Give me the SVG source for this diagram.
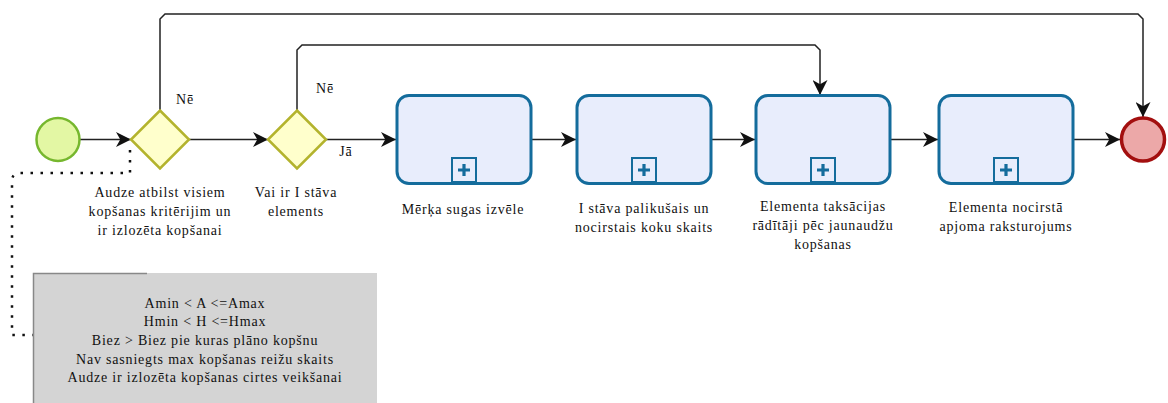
<svg xmlns="http://www.w3.org/2000/svg" width="1168" height="403" viewBox="0 0 1168 403">
  <style>
    .lbl { font-family: "Liberation Serif", "Times New Roman", serif; font-size: 14px; letter-spacing: 0.8px; fill: #111; text-anchor: middle; }
    .flow { fill: none; stroke: #222; stroke-width: 1.5; }
    .assoc { fill: none; stroke: #111; stroke-width: 2.5; stroke-dasharray: 2.5 7.5; }
    .task { fill: #e8edfc; stroke: #146c9c; stroke-width: 3; }
    .plus-box { fill: #e8edfc; stroke: #146c9c; stroke-width: 2; }
    .plus { fill: none; stroke: #146c9c; stroke-width: 3.2; }
    .gw { fill: #ffffcc; stroke: #b3b32d; stroke-width: 2.5; }
  </style>
  <defs>
    <marker id="arrow" viewBox="0 0 14 14" refX="14" refY="7" markerWidth="15" markerHeight="15" markerUnits="userSpaceOnUse" orient="auto">
      <path d="M0,0 L14,7 L0,14 L4,7 Z" fill="#111"/>
    </marker>
  </defs>

  <!-- connectors -->
  <g id="connectors">
    <path class="flow" d="M80,139.5 H131" marker-end="url(#arrow)"/>
    <path class="flow" d="M189,139.5 H268" marker-end="url(#arrow)"/>
    <path class="flow" d="M326,139.5 H396" marker-end="url(#arrow)"/>
    <path class="flow" d="M531,139.5 H576" marker-end="url(#arrow)"/>
    <path class="flow" d="M711,139.5 H755" marker-end="url(#arrow)"/>
    <path class="flow" d="M890,139.5 H938" marker-end="url(#arrow)"/>
    <path class="flow" d="M1073,139.5 H1120" marker-end="url(#arrow)"/>
    <!-- Nē branch from first gateway to the end event -->
    <path class="flow" d="M160,110 V19 L165,14 H1138 L1143,19 V117" marker-end="url(#arrow)"/>
    <!-- Nē branch from second gateway to the third sub-process -->
    <path class="flow" d="M297,110 V50 L302,45 H815 L820,50 V95" marker-end="url(#arrow)"/>
    <!-- association to the annotation -->
    <path class="assoc" d="M130,150 V173 H20 Q12,173 12,181 V335 H33"/>
    <text class="lbl" x="185" y="104">Nē</text>
    <text class="lbl" x="325" y="93">Nē</text>
    <text class="lbl" x="346" y="156">Jā</text>
  </g>

  <!-- start event -->
  <g id="start">
    <circle cx="58" cy="139.5" r="21.5" fill="#e3f7a4" stroke="#76b72e" stroke-width="2.5"/>
  </g>

  <!-- gateway 1 -->
  <g id="gateway1">
    <polygon class="gw" points="160,110.5 189,139.5 160,168.5 131,139.5"/>
    <text class="lbl" x="160" y="197">Audze atbilst visiem</text>
    <text class="lbl" x="160" y="216">kopšanas kritērijim un</text>
    <text class="lbl" x="160" y="235">ir izlozēta kopšanai</text>
  </g>

  <!-- gateway 2 -->
  <g id="gateway2">
    <polygon class="gw" points="297,110.5 326,139.5 297,168.5 268,139.5"/>
    <text class="lbl" x="296" y="197">Vai ir I stāva</text>
    <text class="lbl" x="296" y="216">elements</text>
  </g>

  <!-- sub-process 1 -->
  <g id="task1">
    <rect class="task" x="397" y="95.5" width="134" height="88" rx="12"/>
    <rect class="plus-box" x="452" y="158" width="24" height="24"/>
    <path class="plus" d="M458,170 H470 M464,164 V176"/>
    <text class="lbl" x="463" y="214">Mērķa sugas izvēle</text>
  </g>

  <!-- sub-process 2 -->
  <g id="task2">
    <rect class="task" x="577" y="95.5" width="134" height="88" rx="12"/>
    <rect class="plus-box" x="632" y="158" width="24" height="24"/>
    <path class="plus" d="M638,170 H650 M644,164 V176"/>
    <text class="lbl" x="644" y="213">I stāva palikušais un</text>
    <text class="lbl" x="644" y="232">nocirstais koku skaits</text>
  </g>

  <!-- sub-process 3 -->
  <g id="task3">
    <rect class="task" x="756" y="95.5" width="134" height="88" rx="12"/>
    <rect class="plus-box" x="811" y="158" width="24" height="24"/>
    <path class="plus" d="M817,170 H829 M823,164 V176"/>
    <text class="lbl" x="823" y="211">Elementa taksācijas</text>
    <text class="lbl" x="823" y="230">rādītāji pēc jaunaudžu</text>
    <text class="lbl" x="823" y="249">kopšanas</text>
  </g>

  <!-- sub-process 4 -->
  <g id="task4">
    <rect class="task" x="939" y="95.5" width="134" height="88" rx="12"/>
    <rect class="plus-box" x="994" y="158" width="24" height="24"/>
    <path class="plus" d="M1000,170 H1012 M1006,164 V176"/>
    <text class="lbl" x="1006" y="212">Elementa nocirstā</text>
    <text class="lbl" x="1006" y="231">apjoma raksturojums</text>
  </g>

  <!-- end event -->
  <g id="end">
    <circle cx="1143" cy="139.5" r="21.5" fill="#eca8a8" stroke="#a30f0f" stroke-width="3.5"/>
  </g>

  <!-- text annotation -->
  <g id="annotation">
    <rect x="33" y="273" width="344" height="132" fill="#d4d4d4"/>
    <path d="M147,273.5 H33.5 V403" fill="none" stroke="#888" stroke-width="1.5"/>
    <text class="lbl" x="205" y="308">Amin &lt; A &lt;=Amax</text>
    <text class="lbl" x="205" y="326">Hmin &lt; H &lt;=Hmax</text>
    <text class="lbl" x="205" y="345">Biez &gt; Biez pie kuras plāno kopšnu</text>
    <text class="lbl" x="205" y="364">Nav sasniegts max kopšanas reižu skaits</text>
    <text class="lbl" x="205" y="382">Audze ir izlozēta kopšanas cirtes veikšanai</text>
  </g>
</svg>
